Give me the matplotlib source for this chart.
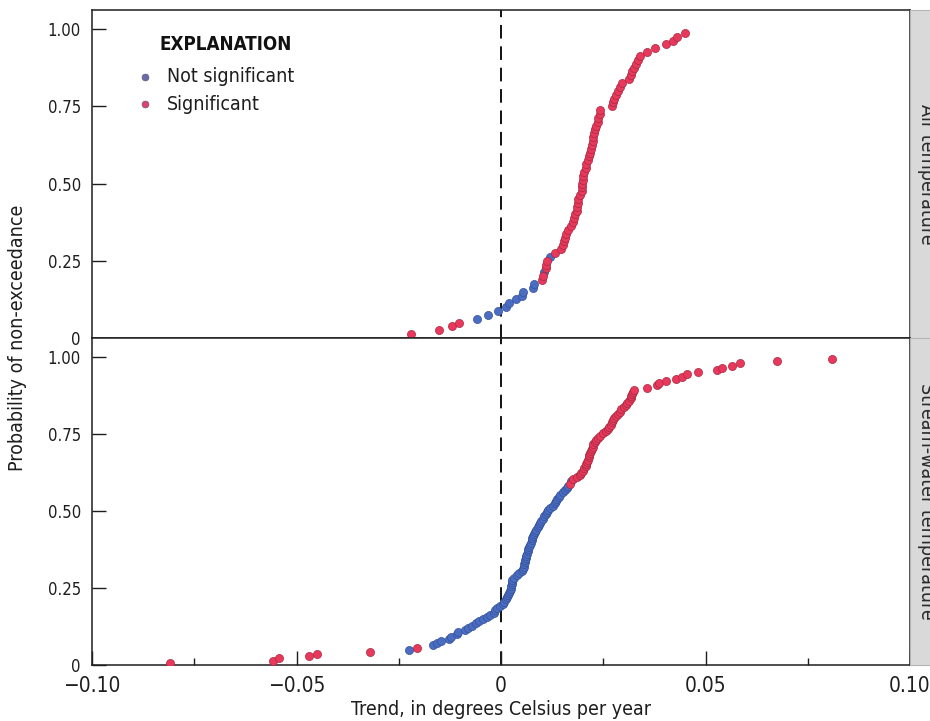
import numpy as np
import matplotlib
matplotlib.use('Agg')
import matplotlib.pyplot as plt

plt.rcParams['font.family'] = ['DejaVu Sans']
plt.rcParams['font.stretch'] = 'condensed'
plt.rcParams['axes.unicode_minus'] = True

# trend values (deg C / yr), sorted, and significance flag (S = significant, N = not)
air_trend = [
    -0.0220, -0.0152, -0.0120, -0.0103, -0.0059, -0.0032, -0.0008, 0.0012, 0.0020, 0.0037,
    0.0051, 0.0054, 0.0078, 0.0080, 0.0100, 0.0102, 0.0105, 0.0110, 0.0111, 0.0113,
    0.0120, 0.0132, 0.0147, 0.0151, 0.0153, 0.0156, 0.0160, 0.0164, 0.0170, 0.0175,
    0.0178, 0.0182, 0.0186, 0.0187, 0.0188, 0.0189, 0.0193, 0.0197, 0.0199, 0.0199,
    0.0200, 0.0201, 0.0204, 0.0207, 0.0209, 0.0212, 0.0215, 0.0218, 0.0220, 0.0222,
    0.0224, 0.0226, 0.0228, 0.0230, 0.0233, 0.0236, 0.0238, 0.0241, 0.0243, 0.0271,
    0.0274, 0.0277, 0.0281, 0.0285, 0.0290, 0.0295, 0.0313, 0.0318, 0.0321, 0.0325,
    0.0330, 0.0335, 0.0340, 0.0357, 0.0377, 0.0403, 0.0421, 0.0430, 0.0450,
]
air_sig = ("SSSSNNNNNNNNNNSSNSSSN"
           "SSSSSSSSSSSSSSSSSSSSSSSSSSSSSSSSSSSSSSSSSSSSSSSSSSSSSSSSSS")

stream_trend = [
    -0.0810, -0.0557, -0.0543, -0.0470, -0.0450, -0.0320, -0.0225, -0.0205, -0.0166, -0.0156,
    -0.0147, -0.0127, -0.0122, -0.0108, -0.0105, -0.0088, -0.0080, -0.0071, -0.0061, -0.0054,
    -0.0044, -0.0034, -0.0028, -0.0017, -0.0015, -0.0010, -0.0002, 0.0005, 0.0008, 0.0012,
    0.0015, 0.0018, 0.0020, 0.0022, 0.0024, 0.0025, 0.0026, 0.0027, 0.0028, 0.0033,
    0.0039, 0.0045, 0.0052, 0.0054, 0.0056, 0.0057, 0.0058, 0.0059, 0.0061, 0.0062,
    0.0064, 0.0065, 0.0067, 0.0069, 0.0071, 0.0074, 0.0076, 0.0077, 0.0078, 0.0080,
    0.0082, 0.0085, 0.0090, 0.0093, 0.0096, 0.0099, 0.0102, 0.0105, 0.0109, 0.0113,
    0.0116, 0.0120, 0.0126, 0.0131, 0.0134, 0.0138, 0.0141, 0.0145, 0.0151, 0.0157,
    0.0161, 0.0165, 0.0169, 0.0172, 0.0176, 0.0185, 0.0193, 0.0196, 0.0200, 0.0204,
    0.0207, 0.0209, 0.0211, 0.0213, 0.0214, 0.0216, 0.0218, 0.0220, 0.0222, 0.0224,
    0.0226, 0.0229, 0.0233, 0.0238, 0.0243, 0.0250, 0.0257, 0.0262, 0.0265, 0.0268,
    0.0271, 0.0274, 0.0277, 0.0282, 0.0287, 0.0290, 0.0294, 0.0300, 0.0305, 0.0309,
    0.0313, 0.0317, 0.0319, 0.0321, 0.0323, 0.0325, 0.0357, 0.0381, 0.0386, 0.0403,
    0.0428, 0.0443, 0.0455, 0.0482, 0.0528, 0.0540, 0.0565, 0.0584, 0.0675, 0.0809,
]
stream_sig = ("SSSSSSNS"
              "NNNNNNNNNNNNNNNNNNNNNNNNNNNNNNNNNNNNNNNNNNNNNNNNNNNNNNNNNNNNNNNNNNNNNNNNNN"
              "SN"
              "SSSSSSSSSSSSSSSSSSSSSSSSSSSSSSSSSSSSSSSSSSSSSSSSSSSSSSSS")

panels = [("Air temperature", air_trend, air_sig),
          ("Stream-water temperature", stream_trend, stream_sig)]

prob_ticks = [0, 0.25, 0.50, 0.75, 1.00]
prob_labels = ['0', '0.25', '0.50', '0.75', '1.00']
trend_ticks = [-0.10, -0.05, 0, 0.05, 0.10]
trend_labels = ['\u22120.10', '\u22120.05', '0', '0.05', '0.10']
trend_minor = [-0.075, -0.025, 0.025, 0.075]

BLUE, BLUE_EDGE = '#4a6dc2', '#34519a'
RED, RED_EDGE = '#e8395c', '#a8283f'
INK = '#1e1e1e'

W, H = 930, 721
fig = plt.figure(figsize=(W / 100, H / 100), dpi=100)

x0, x1 = 92, 910
rows = [(10, 338), (338, 665)]
axes = []
for (label, trend, sig), (ytop, ybot) in zip(panels, rows):
    ax = fig.add_axes([x0 / W, 1 - ybot / H, (x1 - x0) / W, (ybot - ytop) / H])
    n = len(trend)
    x = np.array(trend)
    p = np.arange(1, n + 1) / (n + 1)
    s = np.array([c == 'S' for c in sig])

    ax.axvline(0, color='#111111', lw=1.4, dashes=(7, 4), zorder=1)
    ax.scatter(x[~s], p[~s], s=34, color=BLUE, edgecolor=BLUE_EDGE, linewidth=0.5, zorder=3)
    ax.scatter(x[s], p[s], s=34, color=RED, edgecolor=RED_EDGE, linewidth=0.5, zorder=3)

    ax.set_xlim(-0.10, 0.10)
    ax.set_ylim(0, 1.0615)
    ax.set_yticks(prob_ticks)
    ax.set_yticklabels(prob_labels, fontsize=12, color=INK)
    ax.tick_params(axis='y', direction='in', length=10, width=1, color=INK, pad=8)
    for sp in ax.spines.values():
        sp.set_color(INK)
        sp.set_linewidth(1.1)

    # facet strip on the right edge
    sx = fig.add_axes([x1 / W, 1 - ybot / H, 40 / W, (ybot - ytop) / H])
    sx.set_facecolor('#d9d9d9')
    sx.set_xticks([])
    sx.set_yticks([])
    for sp in sx.spines.values():
        sp.set_color('#b5b5b5')
        sp.set_linewidth(0.8)
    sx.text(0.42, 0.5, label, rotation=-90, ha='center', va='center',
            fontsize=14, color='#2a2a2a', transform=sx.transAxes)
    axes.append(ax)

ax_top, ax_bot = axes
ax_top.set_xticks([])

ax_bot.set_xticks(trend_ticks)
ax_bot.set_xticklabels(trend_labels, fontsize=15, color=INK)
ax_bot.set_xticks(trend_minor, minor=True)
ax_bot.tick_params(axis='x', which='major', direction='in', length=10, width=1, color=INK, pad=8)
ax_bot.tick_params(axis='x', which='minor', direction='in', length=5, width=1, color=INK)
ax_bot.set_xlabel('Trend, in degrees Celsius per year', fontsize=14, color=INK, labelpad=3)

fig.text(18 / W, 1 - 338 / H, 'Probability of non-exceedance', rotation=90,
         ha='center', va='center', fontsize=14, color=INK)

# explanation block
ax_top.text(0.0831, 0.896, 'EXPLANATION', fontsize=13.5, fontweight='bold',
            color='#111111', ha='left', va='center', transform=ax_top.transAxes)
for yy, txt, fc in [(0.796, 'Not significant', '#6a6aa6'),
                    (0.713, 'Significant', '#e0406e')]:
    ax_top.plot([0.0648], [yy], marker='o', ms=5, color=fc, mec='#555577', mew=0.4,
                transform=ax_top.transAxes, clip_on=False)
    ax_top.text(0.0917, yy, txt, fontsize=14, color=INK, ha='left', va='center',
                transform=ax_top.transAxes)

fig.savefig('out.png', dpi=100)
